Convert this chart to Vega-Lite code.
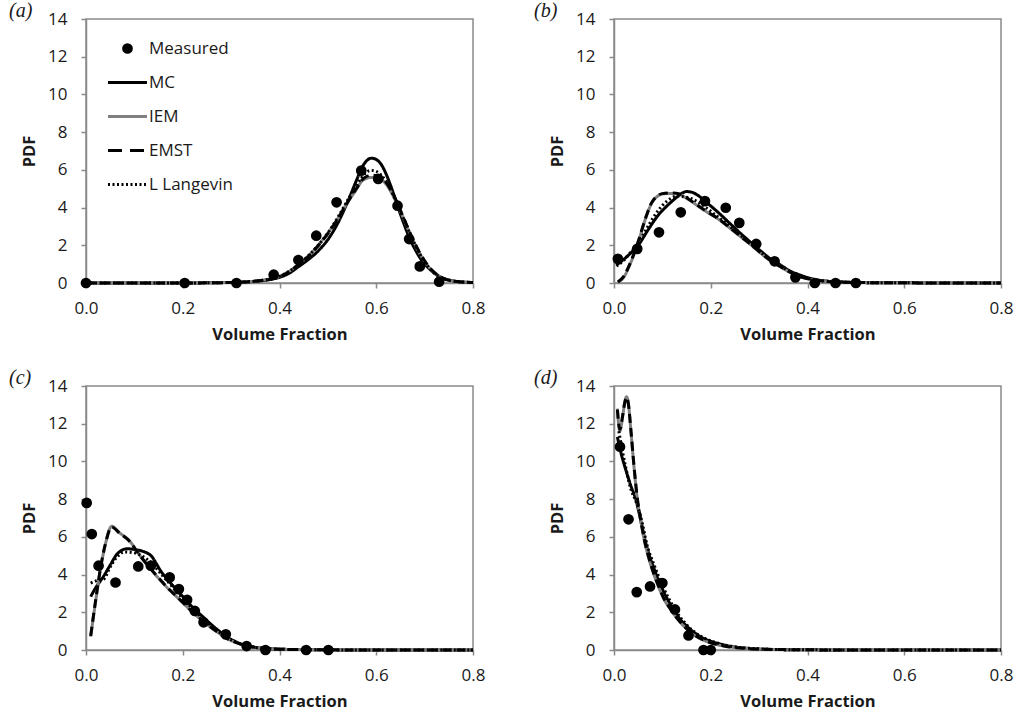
{
  "$schema": "https://vega.github.io/schema/vega-lite/v6.json",
  "background": "white",
  "padding": {"left": 8, "top": 0, "right": 5, "bottom": 5},
  "config": {
    "font": "Open Sans",
    "view": {"stroke": "#8a8a8a", "strokeWidth": 1.5},
    "axis": {"grid": false, "domainColor": "#8a8a8a", "domainWidth": 1.5, "tickColor": "#8a8a8a", "tickWidth": 1.5, "tickSize": 5, "labelFont": "Open Sans", "labelFontSize": 17, "labelColor": "#1a1a1a", "labelFlush": false, "labelOverlap": false, "titleFont": "Open Sans", "titleFontSize": 16.5, "titleFontWeight": "bold", "titleColor": "#1a1a1a"},
    "title": {"font": "Liberation Serif", "fontSize": 20, "fontStyle": "italic", "fontWeight": "normal", "color": "#1a1a1a", "anchor": "start", "frame": "group", "dy": 15}
  },
  "datasets": {
    "a_meas": [
      {"series":"Measured","x":0,"y":0},{"series":"Measured","x":0.204,"y":0},{"series":"Measured","x":0.311,"y":0},{"series":"Measured","x":0.388,"y":0.44},{"series":"Measured","x":0.439,"y":1.22},{"series":"Measured","x":0.476,"y":2.51},{"series":"Measured","x":0.518,"y":4.28},{"series":"Measured","x":0.569,"y":5.96},{"series":"Measured","x":0.604,"y":5.52},{"series":"Measured","x":0.644,"y":4.1},{"series":"Measured","x":0.668,"y":2.33},{"series":"Measured","x":0.69,"y":0.88},{"series":"Measured","x":0.73,"y":0.07}
    ],
    "a_lines": [
      {"series":"MC","x":0,"y":0},{"series":"MC","x":0.1,"y":0},{"series":"MC","x":0.2,"y":0},{"series":"MC","x":0.25,"y":0.01},{"series":"MC","x":0.3,"y":0.03},{"series":"MC","x":0.35,"y":0.09},{"series":"MC","x":0.38,"y":0.18},{"series":"MC","x":0.4,"y":0.3},{"series":"MC","x":0.42,"y":0.52},{"series":"MC","x":0.44,"y":0.88},{"series":"MC","x":0.46,"y":1.25},{"series":"MC","x":0.48,"y":1.7},{"series":"MC","x":0.5,"y":2.3},{"series":"MC","x":0.52,"y":3.15},{"series":"MC","x":0.54,"y":4.25},{"series":"MC","x":0.56,"y":5.5},{"series":"MC","x":0.57,"y":6.1},{"series":"MC","x":0.58,"y":6.48},{"series":"MC","x":0.59,"y":6.62},{"series":"MC","x":0.6,"y":6.55},{"series":"MC","x":0.61,"y":6.3},{"series":"MC","x":0.62,"y":5.8},{"series":"MC","x":0.63,"y":5.15},{"series":"MC","x":0.64,"y":4.4},{"series":"MC","x":0.65,"y":3.65},{"series":"MC","x":0.66,"y":2.95},{"series":"MC","x":0.67,"y":2.3},{"series":"MC","x":0.68,"y":1.8},{"series":"MC","x":0.69,"y":1.35},{"series":"MC","x":0.7,"y":1.0},{"series":"MC","x":0.71,"y":0.75},{"series":"MC","x":0.72,"y":0.52},{"series":"MC","x":0.73,"y":0.36},{"series":"MC","x":0.74,"y":0.24},{"series":"MC","x":0.76,"y":0.11},{"series":"MC","x":0.78,"y":0.05},{"series":"MC","x":0.8,"y":0.03},
      {"series":"IEM","x":0,"y":0},{"series":"IEM","x":0.1,"y":0},{"series":"IEM","x":0.2,"y":0},{"series":"IEM","x":0.25,"y":0.01},{"series":"IEM","x":0.3,"y":0.03},{"series":"IEM","x":0.35,"y":0.1},{"series":"IEM","x":0.38,"y":0.22},{"series":"IEM","x":0.4,"y":0.35},{"series":"IEM","x":0.42,"y":0.62},{"series":"IEM","x":0.44,"y":1.0},{"series":"IEM","x":0.46,"y":1.45},{"series":"IEM","x":0.48,"y":2.0},{"series":"IEM","x":0.5,"y":2.65},{"series":"IEM","x":0.52,"y":3.4},{"series":"IEM","x":0.54,"y":4.25},{"series":"IEM","x":0.56,"y":5.0},{"series":"IEM","x":0.57,"y":5.4},{"series":"IEM","x":0.58,"y":5.55},{"series":"IEM","x":0.59,"y":5.6},{"series":"IEM","x":0.6,"y":5.6},{"series":"IEM","x":0.61,"y":5.5},{"series":"IEM","x":0.62,"y":5.25},{"series":"IEM","x":0.63,"y":4.85},{"series":"IEM","x":0.64,"y":4.35},{"series":"IEM","x":0.65,"y":3.8},{"series":"IEM","x":0.66,"y":3.2},{"series":"IEM","x":0.67,"y":2.6},{"series":"IEM","x":0.68,"y":2.05},{"series":"IEM","x":0.69,"y":1.55},{"series":"IEM","x":0.7,"y":1.15},{"series":"IEM","x":0.71,"y":0.8},{"series":"IEM","x":0.72,"y":0.55},{"series":"IEM","x":0.73,"y":0.36},{"series":"IEM","x":0.74,"y":0.22},{"series":"IEM","x":0.76,"y":0.1},{"series":"IEM","x":0.78,"y":0.05},{"series":"IEM","x":0.8,"y":0.02},
      {"series":"EMST","x":0,"y":0},{"series":"EMST","x":0.1,"y":0},{"series":"EMST","x":0.2,"y":0},{"series":"EMST","x":0.25,"y":0.01},{"series":"EMST","x":0.3,"y":0.03},{"series":"EMST","x":0.35,"y":0.1},{"series":"EMST","x":0.38,"y":0.2},{"series":"EMST","x":0.4,"y":0.33},{"series":"EMST","x":0.42,"y":0.6},{"series":"EMST","x":0.44,"y":0.98},{"series":"EMST","x":0.46,"y":1.42},{"series":"EMST","x":0.48,"y":1.98},{"series":"EMST","x":0.5,"y":2.62},{"series":"EMST","x":0.52,"y":3.38},{"series":"EMST","x":0.54,"y":4.25},{"series":"EMST","x":0.56,"y":5.05},{"series":"EMST","x":0.57,"y":5.45},{"series":"EMST","x":0.58,"y":5.65},{"series":"EMST","x":0.59,"y":5.72},{"series":"EMST","x":0.6,"y":5.7},{"series":"EMST","x":0.61,"y":5.6},{"series":"EMST","x":0.62,"y":5.35},{"series":"EMST","x":0.63,"y":4.95},{"series":"EMST","x":0.64,"y":4.45},{"series":"EMST","x":0.65,"y":3.85},{"series":"EMST","x":0.66,"y":3.25},{"series":"EMST","x":0.67,"y":2.65},{"series":"EMST","x":0.68,"y":2.1},{"series":"EMST","x":0.69,"y":1.6},{"series":"EMST","x":0.7,"y":1.18},{"series":"EMST","x":0.71,"y":0.82},{"series":"EMST","x":0.72,"y":0.56},{"series":"EMST","x":0.73,"y":0.37},{"series":"EMST","x":0.74,"y":0.23},{"series":"EMST","x":0.76,"y":0.1},{"series":"EMST","x":0.78,"y":0.05},{"series":"EMST","x":0.8,"y":0.02},
      {"series":"L Langevin","x":0,"y":0},{"series":"L Langevin","x":0.1,"y":0},{"series":"L Langevin","x":0.2,"y":0},{"series":"L Langevin","x":0.25,"y":0.01},{"series":"L Langevin","x":0.3,"y":0.03},{"series":"L Langevin","x":0.35,"y":0.1},{"series":"L Langevin","x":0.38,"y":0.21},{"series":"L Langevin","x":0.4,"y":0.35},{"series":"L Langevin","x":0.42,"y":0.62},{"series":"L Langevin","x":0.44,"y":1.0},{"series":"L Langevin","x":0.46,"y":1.45},{"series":"L Langevin","x":0.48,"y":2.0},{"series":"L Langevin","x":0.5,"y":2.65},{"series":"L Langevin","x":0.52,"y":3.45},{"series":"L Langevin","x":0.54,"y":4.35},{"series":"L Langevin","x":0.56,"y":5.2},{"series":"L Langevin","x":0.57,"y":5.6},{"series":"L Langevin","x":0.58,"y":5.88},{"series":"L Langevin","x":0.59,"y":5.97},{"series":"L Langevin","x":0.6,"y":5.92},{"series":"L Langevin","x":0.61,"y":5.72},{"series":"L Langevin","x":0.62,"y":5.4},{"series":"L Langevin","x":0.63,"y":4.95},{"series":"L Langevin","x":0.64,"y":4.4},{"series":"L Langevin","x":0.65,"y":3.8},{"series":"L Langevin","x":0.66,"y":3.2},{"series":"L Langevin","x":0.67,"y":2.6},{"series":"L Langevin","x":0.68,"y":2.05},{"series":"L Langevin","x":0.69,"y":1.55},{"series":"L Langevin","x":0.7,"y":1.13},{"series":"L Langevin","x":0.71,"y":0.78},{"series":"L Langevin","x":0.72,"y":0.53},{"series":"L Langevin","x":0.73,"y":0.35},{"series":"L Langevin","x":0.74,"y":0.22},{"series":"L Langevin","x":0.76,"y":0.1},{"series":"L Langevin","x":0.78,"y":0.05},{"series":"L Langevin","x":0.8,"y":0.02}
    ],
    "b_meas": [
      {"series":"Measured","x":0.008,"y":1.28},{"series":"Measured","x":0.048,"y":1.81},{"series":"Measured","x":0.093,"y":2.69},{"series":"Measured","x":0.138,"y":3.75},{"series":"Measured","x":0.188,"y":4.34},{"series":"Measured","x":0.231,"y":3.99},{"series":"Measured","x":0.259,"y":3.19},{"series":"Measured","x":0.294,"y":2.07},{"series":"Measured","x":0.332,"y":1.15},{"series":"Measured","x":0.375,"y":0.3},{"series":"Measured","x":0.415,"y":0},{"series":"Measured","x":0.458,"y":0},{"series":"Measured","x":0.5,"y":0}
    ],
    "b_lines": [
      {"series":"MC","x":0.005,"y":0.95},{"series":"MC","x":0.02,"y":1.25},{"series":"MC","x":0.035,"y":1.6},{"series":"MC","x":0.05,"y":2.0},{"series":"MC","x":0.07,"y":2.8},{"series":"MC","x":0.09,"y":3.55},{"series":"MC","x":0.11,"y":4.1},{"series":"MC","x":0.126,"y":4.47},{"series":"MC","x":0.14,"y":4.75},{"series":"MC","x":0.15,"y":4.85},{"series":"MC","x":0.16,"y":4.82},{"series":"MC","x":0.174,"y":4.64},{"series":"MC","x":0.19,"y":4.3},{"series":"MC","x":0.215,"y":3.75},{"series":"MC","x":0.24,"y":3.15},{"series":"MC","x":0.263,"y":2.6},{"series":"MC","x":0.285,"y":2.1},{"series":"MC","x":0.305,"y":1.66},{"series":"MC","x":0.325,"y":1.25},{"series":"MC","x":0.346,"y":0.92},{"series":"MC","x":0.365,"y":0.62},{"series":"MC","x":0.388,"y":0.39},{"series":"MC","x":0.41,"y":0.22},{"series":"MC","x":0.44,"y":0.1},{"series":"MC","x":0.48,"y":0.04},{"series":"MC","x":0.52,"y":0.02},{"series":"MC","x":0.6,"y":0.01},{"series":"MC","x":0.7,"y":0},{"series":"MC","x":0.8,"y":0},
      {"series":"IEM","x":0.008,"y":0.03},{"series":"IEM","x":0.02,"y":0.3},{"series":"IEM","x":0.035,"y":1.1},{"series":"IEM","x":0.05,"y":2.16},{"series":"IEM","x":0.065,"y":3.4},{"series":"IEM","x":0.077,"y":4.2},{"series":"IEM","x":0.09,"y":4.6},{"series":"IEM","x":0.1,"y":4.72},{"series":"IEM","x":0.115,"y":4.75},{"series":"IEM","x":0.132,"y":4.73},{"series":"IEM","x":0.15,"y":4.5},{"series":"IEM","x":0.167,"y":4.2},{"series":"IEM","x":0.19,"y":3.8},{"series":"IEM","x":0.215,"y":3.4},{"series":"IEM","x":0.24,"y":2.9},{"series":"IEM","x":0.263,"y":2.43},{"series":"IEM","x":0.285,"y":1.98},{"series":"IEM","x":0.305,"y":1.54},{"series":"IEM","x":0.325,"y":1.15},{"series":"IEM","x":0.346,"y":0.83},{"series":"IEM","x":0.365,"y":0.55},{"series":"IEM","x":0.388,"y":0.3},{"series":"IEM","x":0.41,"y":0.18},{"series":"IEM","x":0.44,"y":0.09},{"series":"IEM","x":0.48,"y":0.04},{"series":"IEM","x":0.52,"y":0.02},{"series":"IEM","x":0.6,"y":0.01},{"series":"IEM","x":0.7,"y":0},{"series":"IEM","x":0.8,"y":0},
      {"series":"EMST","x":0.008,"y":0.05},{"series":"EMST","x":0.02,"y":0.35},{"series":"EMST","x":0.035,"y":1.15},{"series":"EMST","x":0.05,"y":2.2},{"series":"EMST","x":0.065,"y":3.42},{"series":"EMST","x":0.077,"y":4.22},{"series":"EMST","x":0.09,"y":4.62},{"series":"EMST","x":0.1,"y":4.74},{"series":"EMST","x":0.12,"y":4.78},{"series":"EMST","x":0.135,"y":4.72},{"series":"EMST","x":0.15,"y":4.52},{"series":"EMST","x":0.167,"y":4.22},{"series":"EMST","x":0.19,"y":3.82},{"series":"EMST","x":0.215,"y":3.42},{"series":"EMST","x":0.24,"y":2.92},{"series":"EMST","x":0.263,"y":2.45},{"series":"EMST","x":0.285,"y":2.0},{"series":"EMST","x":0.305,"y":1.56},{"series":"EMST","x":0.325,"y":1.16},{"series":"EMST","x":0.346,"y":0.84},{"series":"EMST","x":0.365,"y":0.56},{"series":"EMST","x":0.388,"y":0.31},{"series":"EMST","x":0.41,"y":0.18},{"series":"EMST","x":0.44,"y":0.09},{"series":"EMST","x":0.48,"y":0.04},{"series":"EMST","x":0.52,"y":0.02},{"series":"EMST","x":0.6,"y":0.01},{"series":"EMST","x":0.7,"y":0},{"series":"EMST","x":0.8,"y":0},
      {"series":"L Langevin","x":0.005,"y":0.9},{"series":"L Langevin","x":0.02,"y":1.2},{"series":"L Langevin","x":0.035,"y":1.65},{"series":"L Langevin","x":0.05,"y":2.1},{"series":"L Langevin","x":0.07,"y":3.0},{"series":"L Langevin","x":0.09,"y":3.8},{"series":"L Langevin","x":0.11,"y":4.35},{"series":"L Langevin","x":0.13,"y":4.6},{"series":"L Langevin","x":0.15,"y":4.55},{"series":"L Langevin","x":0.17,"y":4.35},{"series":"L Langevin","x":0.19,"y":4.0},{"series":"L Langevin","x":0.215,"y":3.5},{"series":"L Langevin","x":0.24,"y":3.0},{"series":"L Langevin","x":0.263,"y":2.5},{"series":"L Langevin","x":0.285,"y":2.05},{"series":"L Langevin","x":0.305,"y":1.6},{"series":"L Langevin","x":0.325,"y":1.2},{"series":"L Langevin","x":0.346,"y":0.87},{"series":"L Langevin","x":0.365,"y":0.58},{"series":"L Langevin","x":0.388,"y":0.34},{"series":"L Langevin","x":0.41,"y":0.2},{"series":"L Langevin","x":0.44,"y":0.09},{"series":"L Langevin","x":0.48,"y":0.04},{"series":"L Langevin","x":0.52,"y":0.02},{"series":"L Langevin","x":0.6,"y":0.01},{"series":"L Langevin","x":0.7,"y":0},{"series":"L Langevin","x":0.8,"y":0}
    ],
    "c_meas": [
      {"series":"Measured","x":0.0014,"y":7.8},{"series":"Measured","x":0.012,"y":6.15},{"series":"Measured","x":0.026,"y":4.47},{"series":"Measured","x":0.061,"y":3.58},{"series":"Measured","x":0.108,"y":4.43},{"series":"Measured","x":0.134,"y":4.47},{"series":"Measured","x":0.173,"y":3.85},{"series":"Measured","x":0.192,"y":3.23},{"series":"Measured","x":0.209,"y":2.66},{"series":"Measured","x":0.225,"y":2.07},{"series":"Measured","x":0.243,"y":1.47},{"series":"Measured","x":0.289,"y":0.83},{"series":"Measured","x":0.332,"y":0.21},{"series":"Measured","x":0.371,"y":0},{"series":"Measured","x":0.455,"y":0},{"series":"Measured","x":0.501,"y":0}
    ],
    "c_lines": [
      {"series":"MC","x":0.0097,"y":2.83},{"series":"MC","x":0.02,"y":3.3},{"series":"MC","x":0.036,"y":3.9},{"series":"MC","x":0.05,"y":4.5},{"series":"MC","x":0.063,"y":5.05},{"series":"MC","x":0.075,"y":5.3},{"series":"MC","x":0.084,"y":5.37},{"series":"MC","x":0.1,"y":5.33},{"series":"MC","x":0.118,"y":5.23},{"series":"MC","x":0.128,"y":5.12},{"series":"MC","x":0.136,"y":4.96},{"series":"MC","x":0.145,"y":4.6},{"series":"MC","x":0.153,"y":4.25},{"series":"MC","x":0.17,"y":3.7},{"series":"MC","x":0.187,"y":3.19},{"series":"MC","x":0.205,"y":2.7},{"series":"MC","x":0.222,"y":2.22},{"series":"MC","x":0.24,"y":1.8},{"series":"MC","x":0.256,"y":1.42},{"series":"MC","x":0.273,"y":1.05},{"series":"MC","x":0.29,"y":0.71},{"series":"MC","x":0.308,"y":0.46},{"series":"MC","x":0.325,"y":0.27},{"series":"MC","x":0.35,"y":0.14},{"series":"MC","x":0.38,"y":0.07},{"series":"MC","x":0.42,"y":0.03},{"series":"MC","x":0.5,"y":0.01},{"series":"MC","x":0.6,"y":0},{"series":"MC","x":0.8,"y":0},
      {"series":"IEM","x":0.0097,"y":0.71},{"series":"IEM","x":0.02,"y":2.6},{"series":"IEM","x":0.03,"y":4.3},{"series":"IEM","x":0.04,"y":5.6},{"series":"IEM","x":0.053,"y":6.56},{"series":"IEM","x":0.07,"y":6.2},{"series":"IEM","x":0.091,"y":5.76},{"series":"IEM","x":0.105,"y":5.25},{"series":"IEM","x":0.118,"y":4.78},{"series":"IEM","x":0.135,"y":4.25},{"series":"IEM","x":0.153,"y":3.72},{"series":"IEM","x":0.17,"y":3.25},{"series":"IEM","x":0.187,"y":2.83},{"series":"IEM","x":0.205,"y":2.38},{"series":"IEM","x":0.222,"y":1.95},{"series":"IEM","x":0.24,"y":1.57},{"series":"IEM","x":0.256,"y":1.24},{"series":"IEM","x":0.273,"y":0.92},{"series":"IEM","x":0.29,"y":0.62},{"series":"IEM","x":0.308,"y":0.42},{"series":"IEM","x":0.325,"y":0.27},{"series":"IEM","x":0.35,"y":0.14},{"series":"IEM","x":0.38,"y":0.07},{"series":"IEM","x":0.42,"y":0.03},{"series":"IEM","x":0.5,"y":0.01},{"series":"IEM","x":0.6,"y":0},{"series":"IEM","x":0.8,"y":0},
      {"series":"EMST","x":0.0097,"y":0.75},{"series":"EMST","x":0.02,"y":2.65},{"series":"EMST","x":0.03,"y":4.35},{"series":"EMST","x":0.04,"y":5.62},{"series":"EMST","x":0.053,"y":6.52},{"series":"EMST","x":0.07,"y":6.18},{"series":"EMST","x":0.091,"y":5.74},{"series":"EMST","x":0.105,"y":5.24},{"series":"EMST","x":0.118,"y":4.8},{"series":"EMST","x":0.135,"y":4.27},{"series":"EMST","x":0.153,"y":3.74},{"series":"EMST","x":0.17,"y":3.27},{"series":"EMST","x":0.187,"y":2.85},{"series":"EMST","x":0.205,"y":2.4},{"series":"EMST","x":0.222,"y":1.97},{"series":"EMST","x":0.24,"y":1.59},{"series":"EMST","x":0.256,"y":1.25},{"series":"EMST","x":0.273,"y":0.93},{"series":"EMST","x":0.29,"y":0.63},{"series":"EMST","x":0.308,"y":0.42},{"series":"EMST","x":0.325,"y":0.27},{"series":"EMST","x":0.35,"y":0.14},{"series":"EMST","x":0.38,"y":0.07},{"series":"EMST","x":0.42,"y":0.03},{"series":"EMST","x":0.5,"y":0.01},{"series":"EMST","x":0.6,"y":0},{"series":"EMST","x":0.8,"y":0},
      {"series":"L Langevin","x":0.0097,"y":3.55},{"series":"L Langevin","x":0.025,"y":3.7},{"series":"L Langevin","x":0.036,"y":3.75},{"series":"L Langevin","x":0.05,"y":4.4},{"series":"L Langevin","x":0.063,"y":4.9},{"series":"L Langevin","x":0.08,"y":5.2},{"series":"L Langevin","x":0.1,"y":5.15},{"series":"L Langevin","x":0.118,"y":4.95},{"series":"L Langevin","x":0.136,"y":4.6},{"series":"L Langevin","x":0.153,"y":4.1},{"series":"L Langevin","x":0.17,"y":3.6},{"series":"L Langevin","x":0.187,"y":3.1},{"series":"L Langevin","x":0.205,"y":2.6},{"series":"L Langevin","x":0.222,"y":2.15},{"series":"L Langevin","x":0.24,"y":1.72},{"series":"L Langevin","x":0.256,"y":1.35},{"series":"L Langevin","x":0.273,"y":1.0},{"series":"L Langevin","x":0.29,"y":0.68},{"series":"L Langevin","x":0.308,"y":0.44},{"series":"L Langevin","x":0.325,"y":0.27},{"series":"L Langevin","x":0.35,"y":0.14},{"series":"L Langevin","x":0.38,"y":0.07},{"series":"L Langevin","x":0.42,"y":0.03},{"series":"L Langevin","x":0.5,"y":0.01},{"series":"L Langevin","x":0.6,"y":0},{"series":"L Langevin","x":0.8,"y":0}
    ],
    "d_meas": [
      {"series":"Measured","x":0.0124,"y":10.78},{"series":"Measured","x":0.03,"y":6.93},{"series":"Measured","x":0.047,"y":3.07},{"series":"Measured","x":0.0745,"y":3.37},{"series":"Measured","x":0.1,"y":3.55},{"series":"Measured","x":0.126,"y":2.15},{"series":"Measured","x":0.154,"y":0.77},{"series":"Measured","x":0.185,"y":0},{"series":"Measured","x":0.2,"y":0}
    ],
    "d_lines": [
      {"series":"MC","x":0.007,"y":11.3},{"series":"MC","x":0.015,"y":10.4},{"series":"MC","x":0.025,"y":9.5},{"series":"MC","x":0.035,"y":8.7},{"series":"MC","x":0.045,"y":8.0},{"series":"MC","x":0.055,"y":6.9},{"series":"MC","x":0.062,"y":6.08},{"series":"MC","x":0.072,"y":5.1},{"series":"MC","x":0.083,"y":4.3},{"series":"MC","x":0.093,"y":3.65},{"series":"MC","x":0.103,"y":3.07},{"series":"MC","x":0.117,"y":2.4},{"series":"MC","x":0.131,"y":1.83},{"series":"MC","x":0.148,"y":1.32},{"series":"MC","x":0.165,"y":0.94},{"series":"MC","x":0.185,"y":0.62},{"series":"MC","x":0.207,"y":0.41},{"series":"MC","x":0.23,"y":0.25},{"series":"MC","x":0.255,"y":0.14},{"series":"MC","x":0.28,"y":0.08},{"series":"MC","x":0.3,"y":0.05},{"series":"MC","x":0.35,"y":0.02},{"series":"MC","x":0.4,"y":0.01},{"series":"MC","x":0.5,"y":0},{"series":"MC","x":0.8,"y":0},
      {"series":"IEM","x":0.007,"y":12.8},{"series":"IEM","x":0.012,"y":11.6},{"series":"IEM","x":0.018,"y":12.4},{"series":"IEM","x":0.022,"y":13.1},{"series":"IEM","x":0.026,"y":13.43},{"series":"IEM","x":0.03,"y":13.0},{"series":"IEM","x":0.035,"y":11.6},{"series":"IEM","x":0.041,"y":9.8},{"series":"IEM","x":0.048,"y":8.03},{"series":"IEM","x":0.055,"y":6.9},{"series":"IEM","x":0.062,"y":5.9},{"series":"IEM","x":0.072,"y":4.85},{"series":"IEM","x":0.083,"y":3.96},{"series":"IEM","x":0.093,"y":3.3},{"series":"IEM","x":0.103,"y":2.71},{"series":"IEM","x":0.117,"y":2.15},{"series":"IEM","x":0.131,"y":1.65},{"series":"IEM","x":0.148,"y":1.17},{"series":"IEM","x":0.165,"y":0.8},{"series":"IEM","x":0.185,"y":0.52},{"series":"IEM","x":0.207,"y":0.32},{"series":"IEM","x":0.23,"y":0.2},{"series":"IEM","x":0.255,"y":0.12},{"series":"IEM","x":0.28,"y":0.07},{"series":"IEM","x":0.3,"y":0.05},{"series":"IEM","x":0.35,"y":0.02},{"series":"IEM","x":0.4,"y":0.01},{"series":"IEM","x":0.5,"y":0},{"series":"IEM","x":0.8,"y":0},
      {"series":"EMST","x":0.007,"y":12.75},{"series":"EMST","x":0.012,"y":11.7},{"series":"EMST","x":0.018,"y":12.45},{"series":"EMST","x":0.022,"y":13.1},{"series":"EMST","x":0.026,"y":13.4},{"series":"EMST","x":0.03,"y":13.0},{"series":"EMST","x":0.035,"y":11.65},{"series":"EMST","x":0.041,"y":9.85},{"series":"EMST","x":0.048,"y":8.1},{"series":"EMST","x":0.055,"y":6.95},{"series":"EMST","x":0.062,"y":5.95},{"series":"EMST","x":0.072,"y":4.9},{"series":"EMST","x":0.083,"y":4.0},{"series":"EMST","x":0.093,"y":3.33},{"series":"EMST","x":0.103,"y":2.74},{"series":"EMST","x":0.117,"y":2.17},{"series":"EMST","x":0.131,"y":1.67},{"series":"EMST","x":0.148,"y":1.19},{"series":"EMST","x":0.165,"y":0.82},{"series":"EMST","x":0.185,"y":0.53},{"series":"EMST","x":0.207,"y":0.33},{"series":"EMST","x":0.23,"y":0.2},{"series":"EMST","x":0.255,"y":0.12},{"series":"EMST","x":0.28,"y":0.07},{"series":"EMST","x":0.3,"y":0.05},{"series":"EMST","x":0.35,"y":0.02},{"series":"EMST","x":0.4,"y":0.01},{"series":"EMST","x":0.5,"y":0},{"series":"EMST","x":0.8,"y":0},
      {"series":"L Langevin","x":0.01,"y":11.6},{"series":"L Langevin","x":0.017,"y":10.6},{"series":"L Langevin","x":0.025,"y":9.6},{"series":"L Langevin","x":0.034,"y":8.6},{"series":"L Langevin","x":0.045,"y":7.9},{"series":"L Langevin","x":0.055,"y":7.1},{"series":"L Langevin","x":0.069,"y":5.5},{"series":"L Langevin","x":0.083,"y":4.5},{"series":"L Langevin","x":0.093,"y":3.85},{"series":"L Langevin","x":0.103,"y":3.25},{"series":"L Langevin","x":0.117,"y":2.55},{"series":"L Langevin","x":0.131,"y":1.95},{"series":"L Langevin","x":0.148,"y":1.4},{"series":"L Langevin","x":0.165,"y":0.98},{"series":"L Langevin","x":0.185,"y":0.65},{"series":"L Langevin","x":0.207,"y":0.42},{"series":"L Langevin","x":0.23,"y":0.26},{"series":"L Langevin","x":0.255,"y":0.15},{"series":"L Langevin","x":0.28,"y":0.09},{"series":"L Langevin","x":0.3,"y":0.06},{"series":"L Langevin","x":0.35,"y":0.02},{"series":"L Langevin","x":0.4,"y":0.01},{"series":"L Langevin","x":0.5,"y":0},{"series":"L Langevin","x":0.8,"y":0}
    ]
  },
  "columns": 2,
  "spacing": {"row": 23, "column": 47},
  "resolve": {"scale": {"color": "independent", "strokeDash": "independent"}},
  "concat": [
    {
      "title": {"text": "(a)", "dx": -77},
      "width": 387, "height": 264,
      "encoding": {
        "x": {"field": "x", "type": "quantitative", "scale": {"domain": [0, 0.8], "nice": false}, "axis": {"values": [0, 0.2, 0.4, 0.6, 0.8], "format": ".1f", "title": "Volume Fraction", "labelPadding": 12, "titlePadding": 10, "labelOverlap": false}},
        "y": {"field": "y", "type": "quantitative", "scale": {"domain": [0, 14], "nice": false}, "axis": {"values": [0, 2, 4, 6, 8, 10, 12, 14], "tickCount": 8, "format": "d", "title": "PDF", "labelPadding": 14, "titlePadding": 10, "labelOverlap": false, "labelBound": false}}
      },
      "layer": [
        {
          "data": {"name": "a_lines"},
          "mark": {"type": "line", "strokeWidth": 3, "interpolate": "monotone"},
          "encoding": {
            "color": {"field": "series", "type": "nominal", "scale": {"domain": ["Measured", "MC", "IEM", "EMST", "L Langevin"], "range": ["#000000", "#000000", "#808080", "#000000", "#000000"]},
              "legend": {"orient": "none", "legendX": 33, "legendY": 21, "title": null, "padding": 0, "labelFont": "Open Sans", "labelFontSize": 17, "labelColor": "#1a1a1a", "labelOffset": 13, "symbolSize": 1521, "symbolStrokeWidth": 3, "rowPadding": 16,
                "encode": {"symbols": {"update": {
                  "shape": {"signal": "datum.value === 'Measured' ? 'circle' : 'stroke'"},
                  "size": {"signal": "datum.value === 'Measured' ? 115 : 1521"},
                  "fill": {"signal": "datum.value === 'Measured' ? '#000000' : 'transparent'"},
                  "stroke": {"signal": "datum.value === 'IEM' ? '#808080' : '#000000'"},
                  "strokeWidth": {"signal": "datum.value === 'Measured' ? 0 : 3"},
                  "strokeDash": {"signal": "datum.value === 'EMST' ? [14, 8] : datum.value === 'L Langevin' ? [2, 2.5] : [1, 0]"},
                  "opacity": {"value": 1}
                }}}}},
            "strokeDash": {"field": "series", "type": "nominal", "scale": {"domain": ["MC", "IEM", "EMST", "L Langevin"], "range": [[1, 0], [1, 0], [9, 5], [2, 2.5]]}, "legend": null}
          }
        },
        {
          "data": {"name": "a_meas"},
          "mark": {"type": "circle", "size": 115, "opacity": 1},
          "encoding": {
            "color": {"field": "series", "type": "nominal", "legend": null}
          }
        }
      ]
    },
    {
      "title": {"text": "(b)", "dx": -80},
      "width": 387, "height": 264,
      "encoding": {
        "x": {"field": "x", "type": "quantitative", "scale": {"domain": [0, 0.8], "nice": false}, "axis": {"values": [0, 0.2, 0.4, 0.6, 0.8], "format": ".1f", "title": "Volume Fraction", "labelPadding": 12, "titlePadding": 10, "labelOverlap": false}},
        "y": {"field": "y", "type": "quantitative", "scale": {"domain": [0, 14], "nice": false}, "axis": {"values": [0, 2, 4, 6, 8, 10, 12, 14], "tickCount": 8, "format": "d", "title": "PDF", "labelPadding": 14, "titlePadding": 10, "labelOverlap": false, "labelBound": false}}
      },
      "layer": [
        {
          "data": {"name": "b_lines"},
          "mark": {"type": "line", "strokeWidth": 3, "interpolate": "monotone"},
          "encoding": {
            "color": {"field": "series", "type": "nominal", "scale": {"domain": ["Measured", "MC", "IEM", "EMST", "L Langevin"], "range": ["#000000", "#000000", "#808080", "#000000", "#000000"]}, "legend": null},
            "strokeDash": {"field": "series", "type": "nominal", "scale": {"domain": ["MC", "IEM", "EMST", "L Langevin"], "range": [[1, 0], [1, 0], [9, 5], [2, 2.5]]}, "legend": null}
          }
        },
        {
          "data": {"name": "b_meas"},
          "mark": {"type": "circle", "size": 115, "opacity": 1},
          "encoding": {
            "color": {"field": "series", "type": "nominal", "legend": null}
          }
        }
      ]
    },
    {
      "title": {"text": "(c)", "dx": -77},
      "width": 387, "height": 264,
      "encoding": {
        "x": {"field": "x", "type": "quantitative", "scale": {"domain": [0, 0.8], "nice": false}, "axis": {"values": [0, 0.2, 0.4, 0.6, 0.8], "format": ".1f", "title": "Volume Fraction", "labelPadding": 12, "titlePadding": 10, "labelOverlap": false}},
        "y": {"field": "y", "type": "quantitative", "scale": {"domain": [0, 14], "nice": false}, "axis": {"values": [0, 2, 4, 6, 8, 10, 12, 14], "tickCount": 8, "format": "d", "title": "PDF", "labelPadding": 14, "titlePadding": 10, "labelOverlap": false, "labelBound": false}}
      },
      "layer": [
        {
          "data": {"name": "c_lines"},
          "mark": {"type": "line", "strokeWidth": 3, "interpolate": "monotone"},
          "encoding": {
            "color": {"field": "series", "type": "nominal", "scale": {"domain": ["Measured", "MC", "IEM", "EMST", "L Langevin"], "range": ["#000000", "#000000", "#808080", "#000000", "#000000"]}, "legend": null},
            "strokeDash": {"field": "series", "type": "nominal", "scale": {"domain": ["MC", "IEM", "EMST", "L Langevin"], "range": [[1, 0], [1, 0], [9, 5], [2, 2.5]]}, "legend": null}
          }
        },
        {
          "data": {"name": "c_meas"},
          "mark": {"type": "circle", "size": 115, "opacity": 1},
          "encoding": {
            "color": {"field": "series", "type": "nominal", "legend": null}
          }
        }
      ]
    },
    {
      "title": {"text": "(d)", "dx": -80},
      "width": 387, "height": 264,
      "encoding": {
        "x": {"field": "x", "type": "quantitative", "scale": {"domain": [0, 0.8], "nice": false}, "axis": {"values": [0, 0.2, 0.4, 0.6, 0.8], "format": ".1f", "title": "Volume Fraction", "labelPadding": 12, "titlePadding": 10, "labelOverlap": false}},
        "y": {"field": "y", "type": "quantitative", "scale": {"domain": [0, 14], "nice": false}, "axis": {"values": [0, 2, 4, 6, 8, 10, 12, 14], "tickCount": 8, "format": "d", "title": "PDF", "labelPadding": 14, "titlePadding": 10, "labelOverlap": false, "labelBound": false}}
      },
      "layer": [
        {
          "data": {"name": "d_lines"},
          "mark": {"type": "line", "strokeWidth": 3, "interpolate": "monotone"},
          "encoding": {
            "color": {"field": "series", "type": "nominal", "scale": {"domain": ["Measured", "MC", "IEM", "EMST", "L Langevin"], "range": ["#000000", "#000000", "#808080", "#000000", "#000000"]}, "legend": null},
            "strokeDash": {"field": "series", "type": "nominal", "scale": {"domain": ["MC", "IEM", "EMST", "L Langevin"], "range": [[1, 0], [1, 0], [9, 5], [2, 2.5]]}, "legend": null}
          }
        },
        {
          "data": {"name": "d_meas"},
          "mark": {"type": "circle", "size": 115, "opacity": 1},
          "encoding": {
            "color": {"field": "series", "type": "nominal", "legend": null}
          }
        }
      ]
    }
  ]
}
